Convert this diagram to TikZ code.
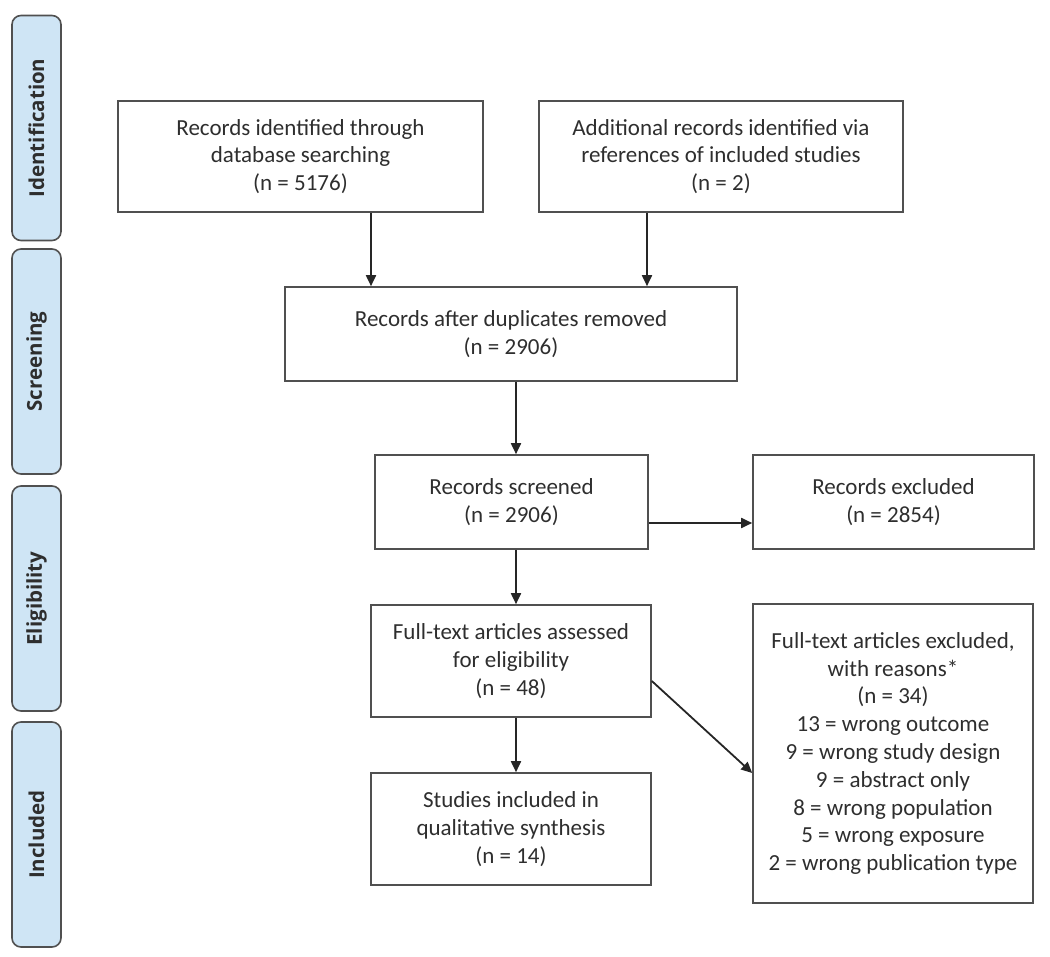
\documentclass[tikz,border=0pt]{standalone}
\usepackage{fontspec}
\setmainfont{Carlito}
\newfontfamily\sidefont{Open Sans}
\usetikzlibrary{arrows.meta}
\definecolor{boxgray}{HTML}{505050}
\definecolor{txtgray}{HTML}{2E2E2E}
\definecolor{sideblue}{HTML}{CFE5F5}
\tikzset{
  flowbox/.style={draw=boxgray, line width=1.6pt, align=center, inner sep=0pt,
    text=txtgray, font=\fontsize{23}{27.8}\selectfont},
  sidebar/.style={draw=boxgray, line width=1.6pt, fill=sideblue, rounded corners=9pt,
    minimum width=49pt, minimum height=225pt, inner sep=0pt},
  sidelabel/.style={rotate=90, text=txtgray, font=\sidefont\bfseries\fontsize{20.5}{24}\selectfont},
  arr/.style={draw=black!85, line width=1.8pt, -{Triangle[length=11pt,width=10pt]}}
}
\begin{document}
\begin{tikzpicture}[x=1pt,y=-1pt]
\useasboundingbox (0,0) rectangle (1050,957);
% side bars
\node[sidebar] (s1) at (36.5,128) {};
\node[sidelabel] (l1) at (s1.center) {Identification};
\node[sidebar] (s2) at (36.5,361.5) {};
\node[sidelabel] (l2) at (s2.center) {Screening};
\node[sidebar] (s3) at (36.5,598.5) {};
\node[sidelabel] (l3) at (s3.center) {Eligibility};
\node[sidebar] (s4) at (36.5,834.5) {};
\node[sidelabel] (l4) at (s4.center) {Included};
% boxes
\node[flowbox, minimum width=365pt, minimum height=111pt] (b1) at (300.5,156.5)
  {Records identified through\\database searching\\(n = 5176)};
\node[flowbox, minimum width=364pt, minimum height=111pt] (b2) at (721,156.5)
  {Additional records identified via\\references of included studies\\(n = 2)};
\node[flowbox, minimum width=452pt, minimum height=94pt] (dup) at (511,334)
  {Records after duplicates removed\\(n = 2906)};
\node[flowbox, minimum width=273pt, minimum height=94pt] (scr) at (511.5,502)
  {Records screened\\(n = 2906)};
\node[flowbox, minimum width=281pt, minimum height=94pt] (exc) at (893.5,502)
  {Records excluded\\(n = 2854)};
\node[flowbox, minimum width=280pt, minimum height=112pt] (ass) at (511,661)
  {Full-text articles assessed\\for eligibility\\(n = 48)};
\node[flowbox, minimum width=280pt, minimum height=112pt] (inc) at (511,829)
  {Studies included in\\qualitative synthesis\\(n = 14)};
\node[flowbox, minimum width=280pt, minimum height=299pt] (ex2) at (893,753.5)
  {Full-text articles excluded,\\with reasons*\\(n = 34)\\13 = wrong outcome\\9 = wrong study design\\9 = abstract only\\8 = wrong population\\5 = wrong exposure\\2 = wrong publication type};
% connectors
\draw[arr] ([xshift=70.5pt]b1.south) -- ([xshift=70.5pt]b1.south |- dup.north);
\draw[arr] ([xshift=-74pt]b2.south) -- ([xshift=-74pt]b2.south |- dup.north);
\draw[arr] ([xshift=5pt]dup.south) -- ([xshift=5pt]dup.south |- scr.north);
\draw[arr] ([yshift=-21pt]scr.east) -- ([yshift=-21pt]scr.east -| exc.west);
\draw[arr] ([xshift=4.5pt]scr.south) -- ([xshift=4.5pt]scr.south |- ass.north);
\draw[arr] ([xshift=5pt]ass.south) -- ([xshift=5pt]ass.south |- inc.north);
\draw[arr] ([yshift=-20pt]ass.east) -- ([yshift=-19.5pt]ex2.west);
\end{tikzpicture}
\end{document}
